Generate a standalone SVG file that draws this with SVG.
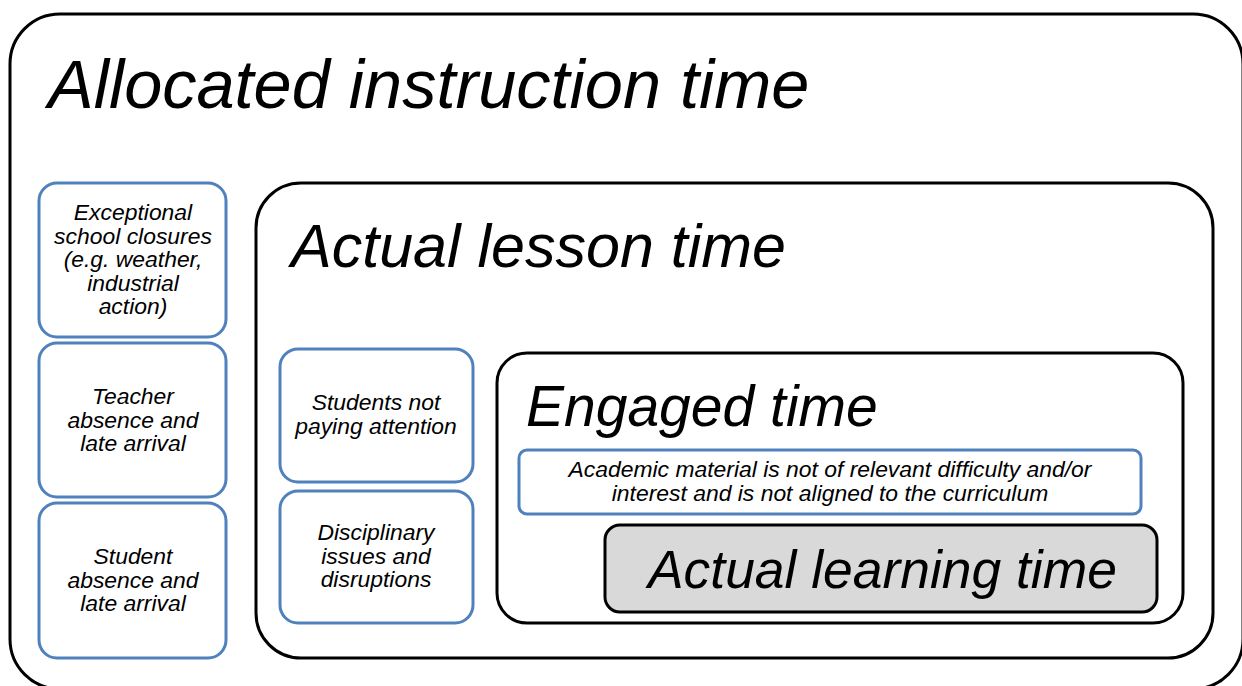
<svg xmlns="http://www.w3.org/2000/svg" width="1242" height="686" viewBox="0 0 1242 686">
<style>
.frame{fill:#fff;stroke:#000;stroke-width:3}
.cause{fill:#fff;stroke:#4F81BD;stroke-width:3}
.learn{fill:#D9D9D9;stroke:#000;stroke-width:3}
text{font-family:"Liberation Sans",Arial,sans-serif;font-style:italic;fill:#000}
.big{font-size:68.5px}
.small{font-size:22.9px;text-anchor:middle}
</style>
<rect width="1242" height="686" fill="#fff"/>
<g id="allocated">
<rect class="frame" x="10" y="14" width="1233" height="675" rx="50"/>
<text class="big" x="48" y="108">Allocated instruction time</text>
</g>
<g id="closures">
<rect class="cause" x="39" y="183" width="187" height="154" rx="18"/>
<text class="small"><tspan x="133" y="220">Exceptional</tspan><tspan x="133" y="243.6">school closures</tspan><tspan x="133" y="267.2">(e.g. weather,</tspan><tspan x="133" y="290.8">industrial</tspan><tspan x="133" y="314.4">action)</tspan></text>
</g>
<g id="teacher">
<rect class="cause" x="39" y="343" width="187" height="154" rx="18"/>
<text class="small"><tspan x="133" y="404">Teacher</tspan><tspan x="133" y="427.6">absence and</tspan><tspan x="133" y="451.2">late arrival</tspan></text>
</g>
<g id="student">
<rect class="cause" x="39" y="503" width="187" height="155" rx="18"/>
<text class="small"><tspan x="133" y="564">Student</tspan><tspan x="133" y="587.6">absence and</tspan><tspan x="133" y="611.2">late arrival</tspan></text>
</g>
<g id="lesson">
<rect class="frame" x="256" y="183" width="957" height="475" rx="45"/>
<text class="big" style="font-size:61px" x="291" y="267">Actual lesson time</text>
</g>
<g id="attention">
<rect class="cause" x="280" y="349" width="193" height="133" rx="18"/>
<text class="small"><tspan x="376" y="410">Students not</tspan><tspan x="376" y="433.6">paying attention</tspan></text>
</g>
<g id="discipline">
<rect class="cause" x="280" y="491" width="193" height="132" rx="18"/>
<text class="small"><tspan x="376" y="540">Disciplinary</tspan><tspan x="376" y="563.6">issues and</tspan><tspan x="376" y="587.2">disruptions</tspan></text>
</g>
<g id="engaged">
<rect class="frame" x="497" y="353" width="686" height="270" rx="30"/>
<text class="big" style="font-size:57px" x="526" y="426">Engaged time</text>
</g>
<g id="material">
<rect class="cause" x="519" y="450" width="622" height="64" rx="8"/>
<text class="small"><tspan x="830" y="477">Academic material is not of relevant difficulty and/or</tspan><tspan x="830" y="500.5">interest and is not aligned to the curriculum</tspan></text>
</g>
<g id="learning">
<rect class="learn" x="605" y="525" width="552" height="87" rx="15"/>
<text class="big" style="font-size:53.4px" x="648" y="588">Actual learning time</text>
</g>
<g id="connectors"></g>
</svg>
